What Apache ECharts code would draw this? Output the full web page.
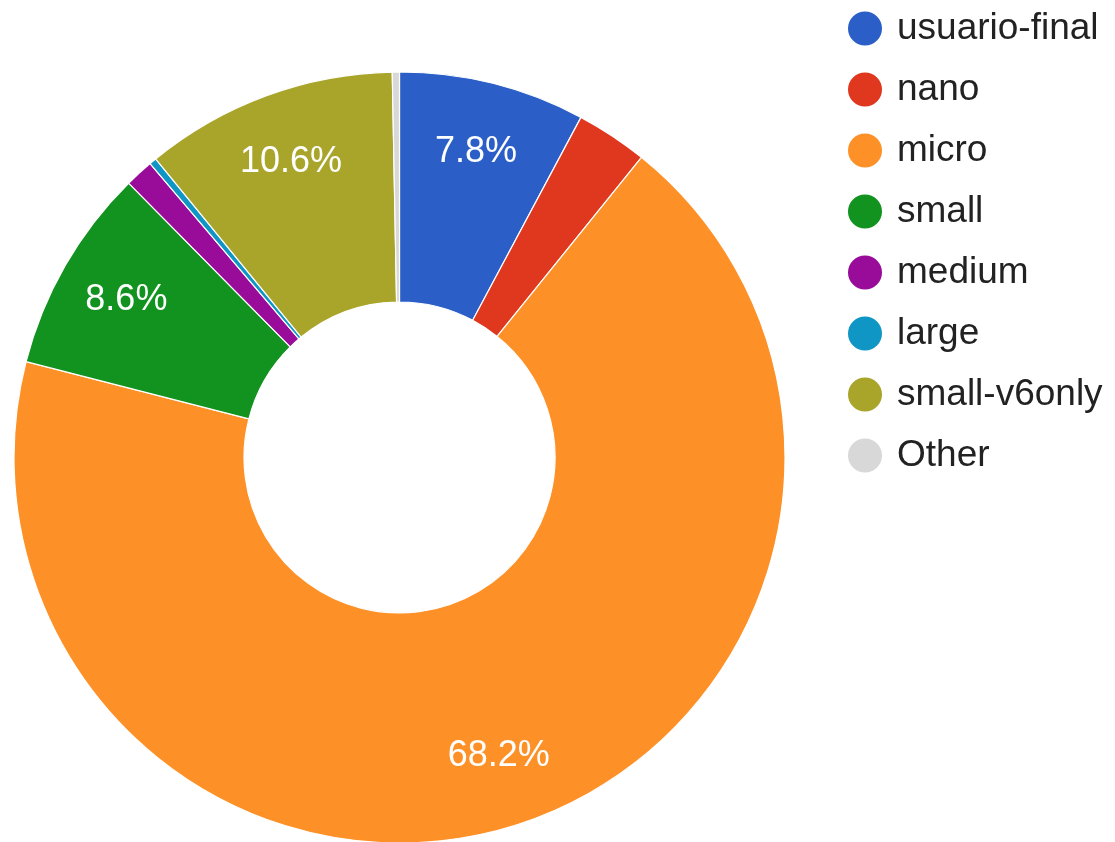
<!DOCTYPE html>
<html>
<head>
<meta charset="utf-8">
<script src="https://cdn.jsdelivr.net/npm/echarts@6/dist/echarts.min.js"></script>
<style>
html,body{margin:0;padding:0;background:#fff;}
#chart{width:1115px;height:842px;}
</style>
</head>
<body>
<div id="chart"></div>
<script>
const categories = ['usuario-final', 'nano', 'micro', 'small', 'medium', 'large', 'small-v6only', 'Other'];
const values = [7.8, 3.0, 68.2, 8.6, 1.2, 0.3, 10.6, 0.3];
const colors = ['#2b5fc7', '#e0371f', '#fd9127', '#12931f', '#990b99', '#0f96c5', '#a9a42a', '#d8d8d8'];

const data = categories.map((name, i) => ({ name: name, value: values[i] }));
const labelThreshold = 5;

const chart = echarts.init(document.getElementById('chart'));
chart.setOption({
  animation: false,
  color: colors,
  legend: {
    orient: 'vertical',
    left: 846,
    top: 9.5,
    padding: 0,
    icon: 'circle',
    itemWidth: 54,
    itemHeight: 36,
    itemGap: 23,
    symbolKeepAspect: true,
    selectedMode: false,
    textStyle: { fontFamily: 'Liberation Sans, Arial, sans-serif', fontSize: 37, color: '#222' },
    data: categories
  },
  series: [
    {
      type: 'pie',
      center: [399.5, 457.5],
      radius: [155.5, 385.5],
      startAngle: 90,
      clockwise: true,
      silent: true,
      itemStyle: { borderColor: '#fff', borderWidth: 1.2 },
      label: { show: false },
      labelLine: { show: false },
      emphasis: { disabled: true },
      data: data
    },
    {
      type: 'pie',
      center: [399.5, 457.5],
      radius: [238.5, 385.5],
      startAngle: 90,
      clockwise: true,
      silent: true,
      itemStyle: { color: 'rgba(0,0,0,0)', borderWidth: 0 },
      label: {
        show: true,
        position: 'inside',
        color: '#fff',
        fontFamily: 'Liberation Sans, Arial, sans-serif',
        fontSize: 36,
        formatter: function (p) { return p.percent >= labelThreshold ? p.percent.toFixed(1) + '%' : ''; }
      },
      labelLine: { show: false },
      emphasis: { disabled: true },
      data: data
    }
  ]
});
</script>
</body>
</html>
